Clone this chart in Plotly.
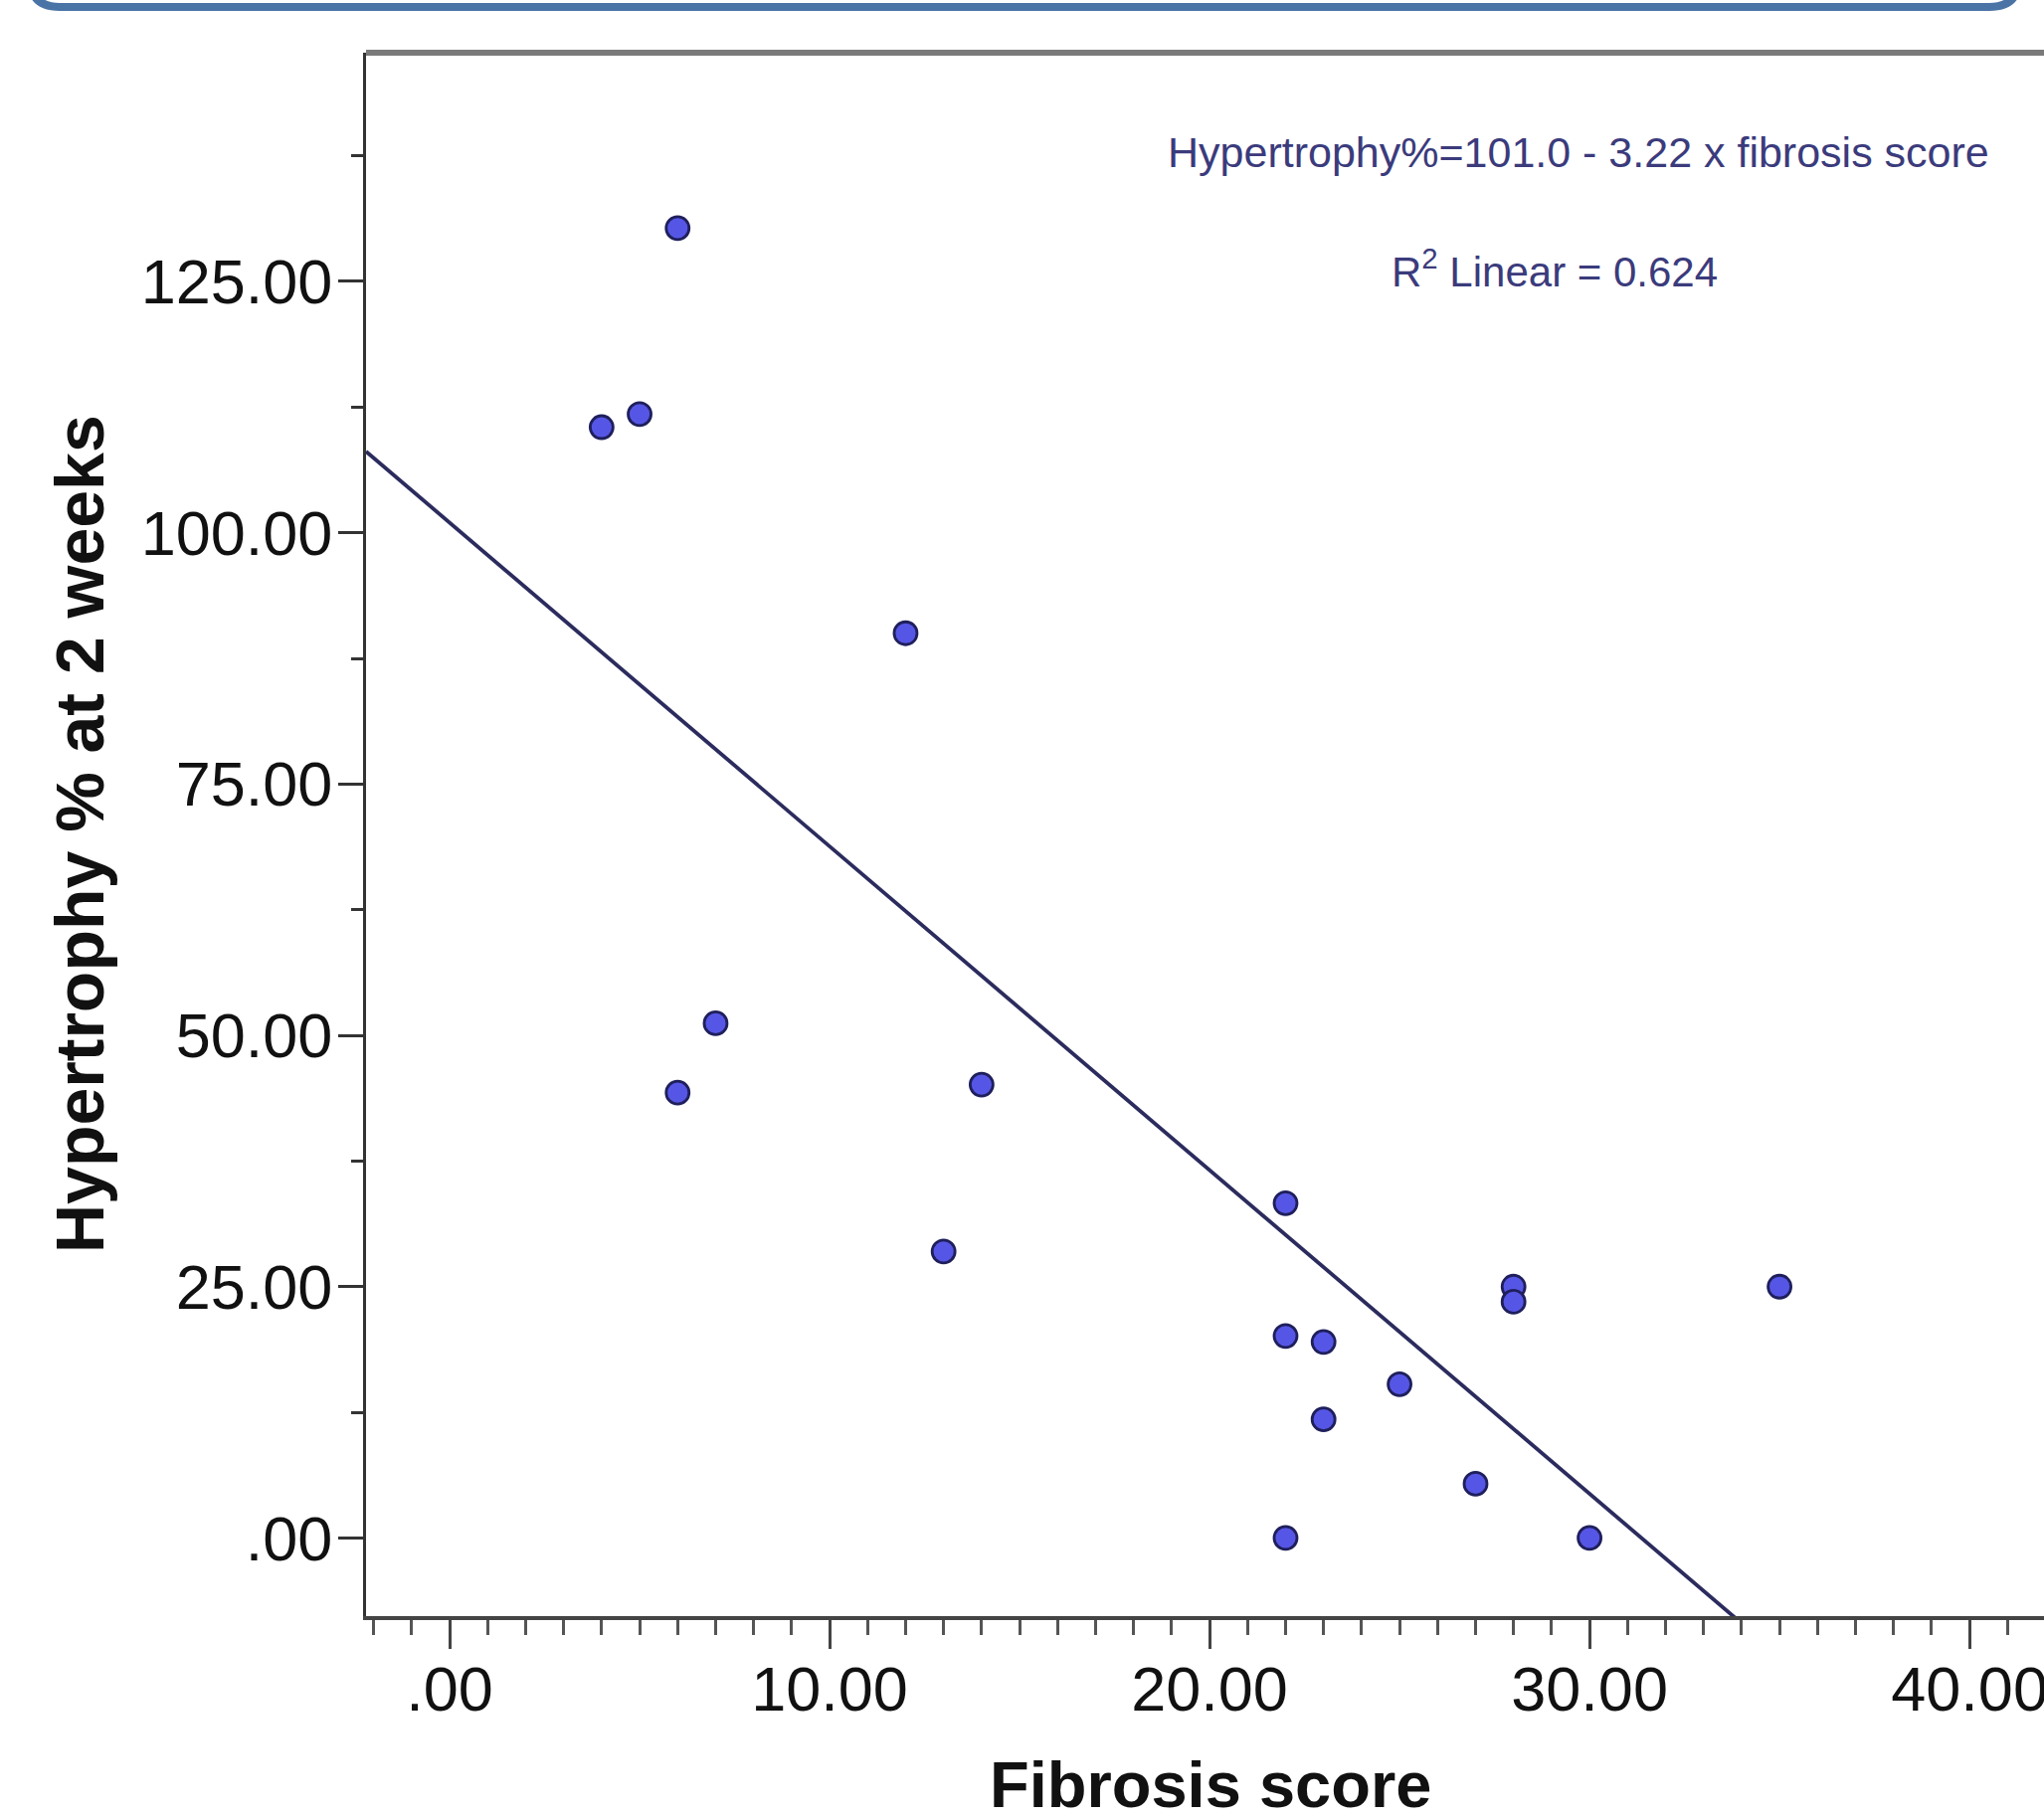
import plotly.graph_objects as go

# Data
fibrosis = [6, 4, 5, 12, 7, 6, 14, 13, 22, 22, 23, 23, 25, 27, 28, 28, 30, 22, 35]
hypertrophy = [130.3, 110.5, 111.8, 90.0, 51.2, 44.3, 45.1, 28.5, 33.3, 20.1, 19.5,
               11.8, 15.3, 5.4, 25.0, 23.5, 0.0, 0.0, 25.0]

intercept = 101.0
slope = -3.22
fit_x = [-2.2, 36.0]
fit_y = [intercept + slope * v for v in fit_x]

x_tickvals = [0, 10, 20, 30, 40]
x_ticktext = [".00", "10.00", "20.00", "30.00", "40.00"]
y_tickvals = [0, 25, 50, 75, 100, 125]
y_ticktext = [".00", "25.00", "50.00", "75.00", "100.00", "125.00"]

W, H = 2055, 1827
ML, MR, MT, MB = 368, 0, 53, 202

fig = go.Figure()
fig.add_trace(go.Scatter(
    x=fit_x, y=fit_y, mode="lines",
    line=dict(color="#2b2b5e", width=3.8), hoverinfo="skip", showlegend=False))
fig.add_trace(go.Scatter(
    x=fibrosis, y=hypertrophy, mode="markers",
    marker=dict(size=23, color="#5656e6", line=dict(color="#1f1f5c", width=2.8)),
    showlegend=False))

sans = "Liberation Sans, Arial, sans-serif"

fig.update_xaxes(
    range=[-2.2, 41.96], showgrid=False, zeroline=False, automargin=False,
    showline=True, linecolor="#444444", linewidth=4,
    ticks="outside", ticklen=29, tickwidth=3, tickcolor="#444444",
    tickvals=x_tickvals, ticktext=x_ticktext, ticklabeloverflow="allow",
    ticklabelstandoff=-14,
    tickfont=dict(family=sans, size=63, color="#111111"),
    minor=dict(dtick=1, tick0=0, ticks="outside", ticklen=15, tickwidth=3, tickcolor="#555555"),
)
fig.update_yaxes(
    range=[-7.77, 147.75], showgrid=False, zeroline=False, automargin=False,
    showline=True, linecolor="#333333", linewidth=3,
    ticks="outside", ticklen=25, tickwidth=3, tickcolor="#333333",
    tickvals=y_tickvals, ticktext=y_ticktext, ticklabelstandoff=-7,
    tickfont=dict(family=sans, size=63, color="#111111"),
    minor=dict(dtick=12.5, tick0=0, ticks="outside", ticklen=12, tickwidth=3, tickcolor="#333333"),
)

def px_x(p):
    return (p - ML) / (W - ML - MR)

def px_y(p):
    return (H - MB - p) / (H - MT - MB)

# top grey frame line of the plot area
fig.add_shape(type="line", xref="paper", yref="paper",
              x0=0, x1=1, y0=1, y1=1, line=dict(color="#7a7a7a", width=6))

# rounded blue frame remnant at top of the image
r = 30
xl, xr, yb, ytop = 30, 2030, 7, -60
path = (f"M {px_x(xl)},{px_y(ytop)} L {px_x(xl)},{px_y(yb - r)} "
        f"Q {px_x(xl)},{px_y(yb)} {px_x(xl + r)},{px_y(yb)} "
        f"L {px_x(xr - r)},{px_y(yb)} "
        f"Q {px_x(xr)},{px_y(yb)} {px_x(xr)},{px_y(yb - r)} "
        f"L {px_x(xr)},{px_y(ytop)}")
fig.add_shape(type="path", xref="paper", yref="paper", path=path,
              line=dict(color="#4a74a6", width=8))

# axis titles
fig.add_annotation(xref="paper", yref="paper", x=px_x(1217), y=px_y(1794),
                   text="<b>Fibrosis score</b>", showarrow=False,
                   font=dict(family=sans, size=65, color="#111111"),
                   xanchor="center", yanchor="middle")
fig.add_annotation(xref="paper", yref="paper", x=px_x(80), y=px_y(839),
                   text="<b>Hypertrophy % at 2 weeks</b>", showarrow=False, textangle=-90,
                   font=dict(family=sans, size=68, color="#111111"),
                   xanchor="center", yanchor="middle")

ann_color = "#3b3b7c"
fig.add_annotation(xref="paper", yref="paper", x=px_x(1587), y=px_y(153),
                   text="Hypertrophy%=101.0 - 3.22 x fibrosis score", showarrow=False,
                   font=dict(family=sans, size=43, color=ann_color),
                   xanchor="center", yanchor="middle")
fig.add_annotation(xref="paper", yref="paper", x=px_x(1563), y=px_y(270),
                   text="R<sup>2</sup> Linear = 0.624", showarrow=False,
                   font=dict(family=sans, size=42, color=ann_color),
                   xanchor="center", yanchor="middle")

fig.update_layout(
    width=W, height=H,
    margin=dict(l=ML, r=MR, t=MT, b=MB, pad=0),
    plot_bgcolor="white", paper_bgcolor="white",
)

fig.write_html("out.html", config={"displayModeBar": False},
               post_script="document.body.style.margin='0';document.body.style.overflow='hidden';")
